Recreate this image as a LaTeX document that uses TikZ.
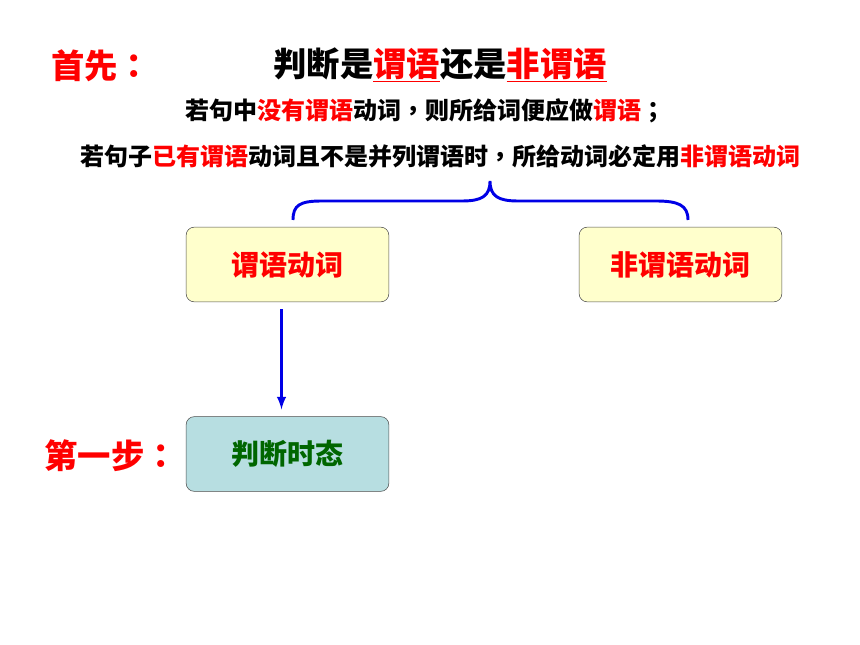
\documentclass[tikz,border=0pt]{standalone}
\usepackage{fontspec}
\setmainfont{Noto Sans CJK SC}
\newfontfamily\punct{Noto Sans CJK TC}
\usepackage{xcolor}
\usepackage{tikz}
\usetikzlibrary{positioning}
\definecolor{verb-red}{RGB}{255, 0, 0}
\definecolor{brace-blue}{RGB}{0, 0, 230}
\definecolor{box-yellow}{RGB}{255, 255, 204}
\definecolor{box-teal}{RGB}{183, 222, 225}
\definecolor{step-green}{RGB}{0, 102, 0}

\begin{document}
\begin{tikzpicture}[x=0.75pt, y=-0.75pt, font=\bfseries,
    verbbox/.style={draw=black!70, rounded corners=6pt, minimum width=152pt,
      minimum height=56pt, inner sep=0pt, font=\fontsize{21}{24}\selectfont\bfseries},
    rule/.style={font=\fontsize{18}{21}\selectfont\bfseries},
    label/.style={text=verb-red, font=\fontsize{25}{28}\selectfont\bfseries}]
  \useasboundingbox (0, 0) rectangle (860, 645);

  % headings
  \node[label] (first) at (101, 66) {首先{\punct ：}};
  \node[font=\fontsize{25}{28}\selectfont\bfseries] (title) at (440, 65)
    {判断是\textcolor{verb-red}{\underline{谓语}}还是\textcolor{verb-red}{\underline{非谓语}}};
  \node[rule] (rule1) at (425, 111)
    {若句中\textcolor{verb-red}{没有谓语}动词{\punct ，}则所给词便应做\textcolor{verb-red}{谓语}{\punct ；}};
  \node[rule] (rule2) at (440, 156)
    {若句子\textcolor{verb-red}{已有谓语}动词且不是并列谓语时{\punct ，}所给动词必定用\textcolor{verb-red}{非谓语动词}};

  % boxes
  \node[verbbox, fill=box-yellow, text=verb-red] (verb) at (287.5, 264.5) {谓语动词};
  \node[verbbox, fill=box-yellow, text=verb-red] (nonverb) at (680.5, 264.5) {非谓语动词};
  \node[verbbox, fill=box-teal, text=step-green] (tense) at (287.5, 454) {判断时态};
  \node[label] (step1) at (111, 456) {第一步{\punct ：}};

  % brace
  \coordinate (bl) at (293, 220);
  \coordinate (br) at (688, 220);
  \coordinate (tip) at (490, 181);
  \draw[brace-blue, line width=2.2pt] (bl) .. controls (293, 205) and (300, 201) .. (322, 201)
    -- (462, 201) .. controls (482, 201) and (490, 196) .. (tip)
    .. controls (490, 196) and (498, 201) .. (518, 201) -- (656, 201)
    .. controls (678, 201) and (688, 205) .. (br);

  \draw[brace-blue, line width=2.2pt, -latex] ([xshift=-4.5pt]verb.south) ++(0, 7)
    -- ([xshift=-4.5pt, yshift=5.25pt]tense.north);
\end{tikzpicture}
\end{document}
